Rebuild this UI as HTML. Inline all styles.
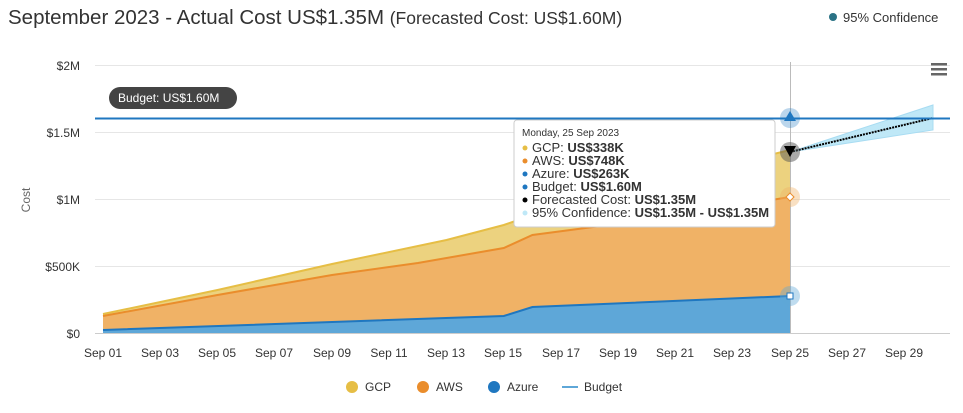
<!DOCTYPE html><html><head><style>body{margin:0;background:#fff;font-family:"Liberation Sans",sans-serif}</style></head><body>
<svg width="963" height="408" xmlns="http://www.w3.org/2000/svg" font-family="Liberation Sans, sans-serif">
<text x="8" y="24" font-size="20.5" fill="#333">September 2023 - Actual Cost US$1.35M <tspan font-size="17.5">(Forecasted Cost: US$1.60M)</tspan></text>
<circle cx="833" cy="17" r="4" fill="#2a7285"/><text x="843" y="22" font-size="13" fill="#333">95% Confidence</text>
<g stroke="#e6e6e6" stroke-width="1"><line x1="95" y1="65.5" x2="950" y2="65.5"/><line x1="95" y1="132.5" x2="950" y2="132.5"/><line x1="95" y1="199.5" x2="950" y2="199.5"/><line x1="95" y1="266.5" x2="950" y2="266.5"/></g>
<g font-size="12" fill="#333" text-anchor="end"><text x="80" y="70">$2M</text><text x="80" y="137">$1.5M</text><text x="80" y="204">$1M</text><text x="80" y="271">$500K</text><text x="80" y="338">$0</text></g>
<text x="30" y="200" font-size="12" fill="#666" transform="rotate(-90 30 200)" text-anchor="middle">Cost</text>
<polygon points="103,314 217.5,290 332,264 446.5,240 503.8,225 532.4,215 646.9,185 790,150 790,333 103,333" fill="#ecd27f"/>
<polyline points="103,314 217.5,290 332,264 446.5,240 503.8,225 532.4,215 646.9,185 790,150" fill="none" stroke="#e6be45" stroke-width="2"/>
<polygon points="103,316 217.5,295 332,275 417.9,263 503.8,248 532.4,235 646.9,220 790,197 790,333 103,333" fill="#f0b266"/>
<polyline points="103,316 217.5,295 332,275 417.9,263 503.8,248 532.4,235 646.9,220 790,197" fill="none" stroke="#ea8d2c" stroke-width="2"/>
<polygon points="103,330 503.8,316 532.4,307 790,296 790,333 103,333" fill="#5ea7d8"/>
<polyline points="103,330 503.8,316 532.4,307 790,296" fill="none" stroke="#1f77c0" stroke-width="2"/>
<polygon points="790,152 933,105 933,130" fill="#bfe8f7" stroke="#a8dcf2"/>
<line x1="790" y1="152" x2="933" y2="118" stroke="#000" stroke-width="2" stroke-dasharray="2,1"/>
<line x1="95" y1="118.5" x2="950" y2="118.5" stroke="#1f77c0" stroke-width="2"/>
<line x1="790.5" y1="62" x2="790.5" y2="333" stroke="#bbb"/>
<line x1="95" y1="333.5" x2="950" y2="333.5" stroke="#ccc"/>
<g font-size="12" fill="#333" text-anchor="middle"><text x="103" y="357">Sep 01</text><text x="160" y="357">Sep 03</text><text x="217" y="357">Sep 05</text><text x="274" y="357">Sep 07</text><text x="332" y="357">Sep 09</text><text x="389" y="357">Sep 11</text><text x="446" y="357">Sep 13</text><text x="503" y="357">Sep 15</text><text x="561" y="357">Sep 17</text><text x="618" y="357">Sep 19</text><text x="675" y="357">Sep 21</text><text x="732" y="357">Sep 23</text><text x="790" y="357">Sep 25</text><text x="847" y="357">Sep 27</text><text x="904" y="357">Sep 29</text></g>
<circle cx="790" cy="118" r="10" fill="#1f77c0" opacity="0.3"/><polygon points="790,111 796,121 784,121" fill="#1f77c0"/>
<circle cx="790" cy="152" r="10" fill="#555" opacity="0.5"/><polygon points="784,146 796,146 790,157" fill="#000"/>
<circle cx="790" cy="197" r="10" fill="#f0b266" opacity="0.4"/><polygon points="790,193 794,197 790,201 786,197" fill="#fff" stroke="#ea8d2c"/>
<circle cx="790" cy="296" r="10" fill="#5ea7d8" opacity="0.4"/><rect x="787" y="293" width="6" height="6" fill="#fff" stroke="#1f77c0"/>
<rect x="109" y="87" width="128" height="22" rx="11" fill="#444"/><text x="118" y="102" font-size="12" fill="#fff">Budget: US$1.60M</text>
<g transform="translate(514,120)"><rect x="0" y="0" width="261" height="107" rx="3" fill="#fff" stroke="#ccc"/>
<g font-size="13" fill="#333"><text x="8" y="16" font-size="10">Monday, 25 Sep 2023</text>
<circle cx="11" cy="28" r="2.5" fill="#e6be45"/><text x="18" y="32">GCP: <tspan font-weight="bold">US$338K</tspan></text>
<circle cx="11" cy="41" r="2.5" fill="#ea8d2c"/><text x="18" y="45">AWS: <tspan font-weight="bold">US$748K</tspan></text>
<circle cx="11" cy="54" r="2.5" fill="#1f77c0"/><text x="18" y="58">Azure: <tspan font-weight="bold">US$263K</tspan></text>
<circle cx="11" cy="67" r="2.5" fill="#1f77c0"/><text x="18" y="71">Budget: <tspan font-weight="bold">US$1.60M</tspan></text>
<circle cx="11" cy="80" r="2.5" fill="#000"/><text x="18" y="84">Forecasted Cost: <tspan font-weight="bold">US$1.35M</tspan></text>
<circle cx="11" cy="93" r="2.5" fill="#bfe8f7"/><text x="18" y="97">95% Confidence: <tspan font-weight="bold">US$1.35M - US$1.35M</tspan></text></g></g>
<g fill="#666"><rect x="931" y="63" width="16" height="2.5"/><rect x="931" y="68" width="16" height="2.5"/><rect x="931" y="73" width="16" height="2.5"/></g>
<g font-size="12" fill="#333"><circle cx="352" cy="387" r="6" fill="#e6be45"/><text x="365" y="391">GCP</text>
<circle cx="423" cy="387" r="6" fill="#ea8d2c"/><text x="436" y="391">AWS</text>
<circle cx="494" cy="387" r="6" fill="#1f77c0"/><text x="507" y="391">Azure</text>
<line x1="562" y1="387" x2="578" y2="387" stroke="#5ea7d8" stroke-width="2"/><text x="584" y="391">Budget</text></g>
</svg></body></html>
